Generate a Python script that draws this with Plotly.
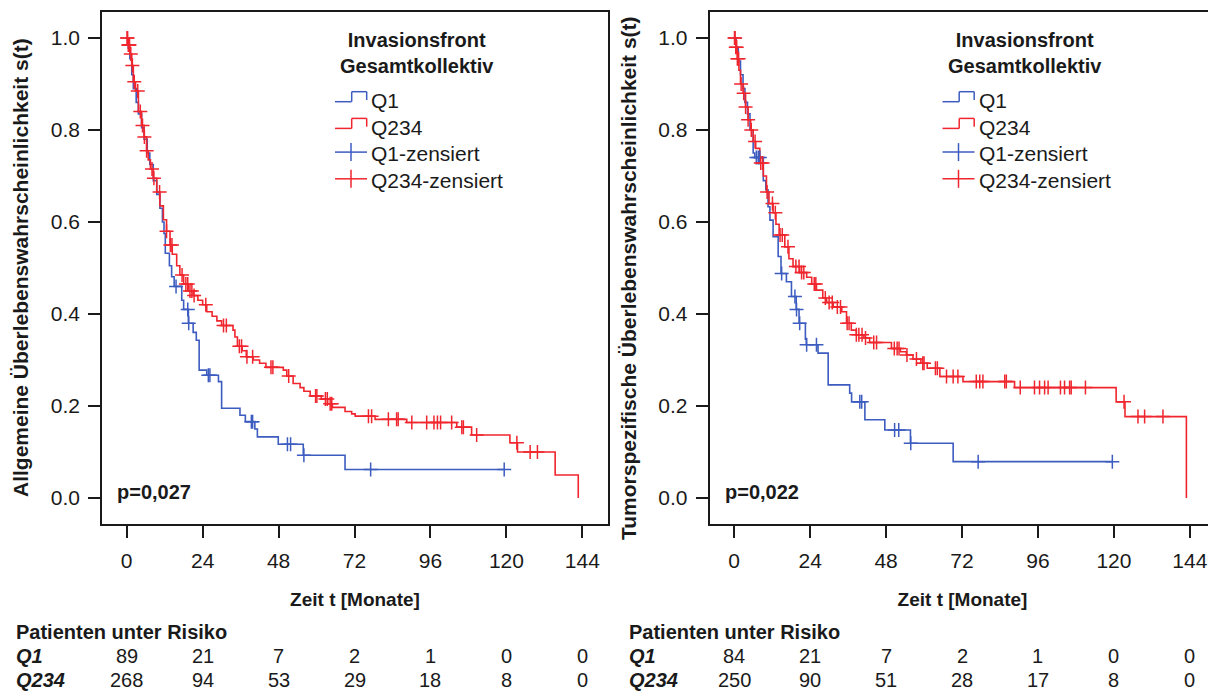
import plotly.graph_objects as go

FONT = "Liberation Sans, Arial, sans-serif"
BLUE = "#3D5CC0"
RED = "#F0262E"
INK = "#1a1a1a"

# ---------------- data ----------------
# Left panel: overall survival (Allgemeine Überlebenswahrscheinlichkeit)
os_q1_t = [0, 0.5, 1.0, 1.6, 2.1, 3.0, 3.7, 4.7, 5.5, 6.5, 7.3, 8.4, 9.5, 10.5, 11.3, 11.8, 12.2,
           13.5, 14.2, 15.0, 17.4, 18.0, 19.5, 21.0, 22.0, 22.9, 25.3, 29.0, 30.0, 35.8, 37.5,
           40.5, 41.3, 47.9, 55.8, 69.0]
os_q1_s = [1.0, 0.978, 0.955, 0.92, 0.89, 0.86, 0.835, 0.805, 0.78, 0.75, 0.725, 0.69, 0.66, 0.63,
           0.6, 0.575, 0.532, 0.505, 0.481, 0.46, 0.43, 0.41, 0.38, 0.36, 0.343, 0.278, 0.267,
           0.253, 0.195, 0.18, 0.166, 0.15, 0.133, 0.117, 0.093, 0.062]
os_q1_end = 119.3
os_q1_cens = [15.6, 19.3, 19.6, 25.8, 26.3, 39.4, 39.8, 50.8, 51.8, 56.0, 77.1, 119.3]

os_q234_t = [0, 0.5, 1.0, 1.6, 2.1, 2.8, 3.7, 4.7, 5.5, 6.3, 6.8, 7.5, 8.4, 9.5, 10.5, 11.6, 12.6,
             13.7, 14.4, 15.8, 16.8, 18.0, 19.5, 21.0, 22.5, 24.0, 25.3, 27.0, 28.5, 30.0, 33.6,
             34.2, 35.0, 36.5, 37.8, 40.0, 42.0, 44.0, 49.5, 50.6, 52.6, 54.8, 56.0, 58.0, 61.5,
             63.5, 65.0, 69.0, 71.1, 72.2, 78.5, 88.5, 104.3, 109.0, 121.1, 123.5, 135.4, 142.7]
os_q234_s = [1.0, 0.985, 0.965, 0.94, 0.905, 0.885, 0.84, 0.81, 0.785, 0.755, 0.735, 0.715, 0.695,
             0.665, 0.635, 0.605, 0.58, 0.55, 0.53, 0.505, 0.485, 0.465, 0.45, 0.44, 0.43, 0.42,
             0.405, 0.395, 0.385, 0.375, 0.365, 0.35, 0.33, 0.32, 0.307, 0.3, 0.293, 0.284, 0.278,
             0.265, 0.249, 0.24, 0.232, 0.222, 0.215, 0.205, 0.197, 0.188, 0.183, 0.178, 0.171,
             0.164, 0.154, 0.137, 0.12, 0.1, 0.05, 0.0]
os_q234_end = 142.7
os_q234_cens = [0.1, 0.3, 0.5, 0.7, 0.9, 1.3, 1.8, 2.4, 3.5, 4.3, 5.0, 5.6, 6.3, 8.0, 8.6, 10.4,
                12.6, 13.8, 14.3, 17.5, 18.7, 19.3, 20.0, 20.6, 21.3, 25.0, 30.6, 31.5, 35.6, 36.3,
                38.0, 39.8, 45.6, 46.2, 51.2, 59.7, 60.1, 62.8, 63.4, 64.3, 64.8, 76.4, 77.4, 82.7,
                85.3, 85.8, 90.1, 94.8, 97.1, 98.2, 99.2, 102.7, 105.9, 106.4, 110.6, 123.3, 127.5,
                129.8]

# Right panel: tumour-specific survival
ts_q1_t = [0, 0.6, 1.3, 2.0, 2.8, 3.4, 4.2, 5.0, 6.0, 6.5, 9.2, 10.0, 10.7, 11.3, 12.3, 13.9,
           14.8, 16.5, 18.1, 19.6, 20.5, 22.5, 22.8, 26.5, 29.7, 36.5, 37.1, 41.3, 47.6, 55.7,
           69.2]
ts_q1_s = [1.0, 0.98, 0.95, 0.92, 0.89, 0.86, 0.835, 0.8, 0.75, 0.74, 0.69, 0.67, 0.633, 0.604,
           0.568, 0.525, 0.488, 0.47, 0.438, 0.41, 0.38, 0.345, 0.333, 0.315, 0.246, 0.228,
           0.209, 0.17, 0.148, 0.119, 0.079]
ts_q1_end = 119.5
ts_q1_cens = [7.0, 7.6, 8.1, 15.0, 19.2, 19.7, 20.7, 22.9, 26.0, 39.7, 40.3, 50.7, 52.0, 55.8,
              77.1, 119.5]

ts_q234_t = [0, 0.5, 1.0, 1.5, 2.0, 2.8, 3.6, 4.4, 5.2, 6.0, 6.8, 8.1, 9.2, 10.2, 11.0, 12.3,
             13.2, 14.2, 16.0, 17.3, 18.6, 20.7, 22.9, 24.5, 26.0, 28.0, 29.2, 31.3, 34.0, 35.5,
             37.0, 38.6, 41.0, 42.8, 49.7, 52.5, 54.4, 56.5, 59.0, 61.0, 65.0, 72.3, 88.6, 120.7,
             123.5, 142.9]
ts_q234_s = [1.0, 0.98, 0.955, 0.93, 0.9, 0.88, 0.85, 0.822, 0.8, 0.775, 0.76, 0.728, 0.7, 0.665,
             0.64, 0.62, 0.595, 0.572, 0.546, 0.52, 0.503, 0.49, 0.48, 0.465, 0.452, 0.435,
             0.425, 0.415, 0.405, 0.38, 0.365, 0.355, 0.348, 0.338, 0.325, 0.318, 0.311, 0.302,
             0.293, 0.282, 0.264, 0.253, 0.24, 0.209, 0.177, 0.0]
ts_q234_end = 142.9
ts_q234_cens = [0.1, 0.3, 0.5, 0.8, 1.0, 1.4, 2.2, 3.0, 3.6, 4.4, 5.4, 6.6, 8.4, 9.0, 10.4, 12.1,
                13.0, 14.5, 15.2, 17.0, 19.5, 20.5, 21.3, 22.0, 25.3, 25.8, 28.8, 30.0, 31.0,
                32.6, 33.6, 35.7, 36.3, 38.6, 39.4, 40.4, 41.5, 44.1, 45.0, 50.6, 51.5, 52.1, 54.6,
                57.6, 59.6, 60.0, 63.6, 64.2, 67.1, 69.2, 70.7, 76.5, 77.6, 78.6, 85.5, 86.0, 90.4,
                94.9, 96.5, 98.1, 99.2, 103.1, 104.4, 106.0, 106.5, 111.0, 123.2, 127.6, 129.7,
                135.5]

risk_times = [0, 24, 48, 72, 96, 120, 144]
risk_os_q1 = [89, 21, 7, 2, 1, 0, 0]
risk_os_q234 = [268, 94, 53, 29, 18, 8, 0]
risk_ts_q1 = [84, 21, 7, 2, 1, 0, 0]
risk_ts_q234 = [250, 90, 51, 28, 17, 8, 0]

p_values = ["p=0,027", "p=0,022"]
y_titles = ["Allgemeine Überlebenswahrscheinlichkeit s(t)",
            "Tumorspezifische Überlebenswahrscheinlichkeit s(t)"]
x_title = "Zeit t [Monate]"
legend_title = ["Invasionsfront", "Gesamtkollektiv"]
group_names = ["Q1", "Q234"]
y_ticks = [0.0, 0.2, 0.4, 0.6, 0.8, 1.0]


def step_at(ts, ss, t):
    v = ss[0]
    for ti, si in zip(ts, ss):
        if ti <= t:
            v = si
        else:
            break
    return v


fig = go.Figure()

panels = [
    ("x", "y", [(os_q1_t, os_q1_s, os_q1_end, os_q1_cens, BLUE),
                (os_q234_t, os_q234_s, os_q234_end, os_q234_cens, RED)]),
    ("x2", "y2", [(ts_q1_t, ts_q1_s, ts_q1_end, ts_q1_cens, BLUE),
                  (ts_q234_t, ts_q234_s, ts_q234_end, ts_q234_cens, RED)]),
]

for xa, ya, curves in panels:
    for ts, ss, end, cens, col in curves:
        xs = list(ts)
        ys = list(ss)
        if end > xs[-1]:
            xs.append(end)
            ys.append(ys[-1])
        fig.add_trace(go.Scatter(x=xs, y=ys, mode="lines", line=dict(color=col, width=1.6, shape="hv"),
                                 xaxis=xa, yaxis=ya, showlegend=False, hoverinfo="skip"))
    for ts, ss, end, cens, col in curves:
        fig.add_trace(go.Scatter(x=cens, y=[step_at(ts, ss, c) for c in cens], mode="markers",
                                 marker=dict(symbol="cross-thin", size=10,
                                             line=dict(color=col, width=1.5)),
                                 xaxis=xa, yaxis=ya, showlegend=False, hoverinfo="skip"))

# The page places the figure 8 px from the top-left corner (body margin),
# so the figure is 8 px smaller and page pixel positions are shifted by OFF.
OFF = 8
W, H = 1216 - OFF, 693 - OFF
frames = [(102 - OFF, 608 - OFF), (709.5 - OFF, 1215.5 - OFF)]
top, bottom = 12 - OFF, 524 - OFF

axis_common = dict(showline=True, mirror=True, linecolor=INK, linewidth=1.5, ticks="outside",
                   ticklen=12, tickwidth=1.5, tickcolor=INK, showgrid=False, zeroline=False,
                   tickfont=dict(family=FONT, size=21, color=INK), automargin=False)

layout = dict(width=W, height=H, margin=dict(l=0, r=0, t=0, b=0), plot_bgcolor="white",
              paper_bgcolor="white", showlegend=False, font=dict(family=FONT, color=INK))
for i, (xl, xr) in enumerate(frames):
    sx = "" if i == 0 else "2"
    layout["xaxis" + sx] = dict(axis_common, domain=[xl / W, xr / W], range=[-7.8, 152.1],
                                tickvals=risk_times, anchor="y" + sx, ticklabelstandoff=5,
                                title=dict(text="<b>" + x_title + "</b>", standoff=22,
                                           font=dict(family=FONT, size=19, color=INK)))
    layout["yaxis" + sx] = dict(axis_common, domain=[1 - bottom / H, 1 - top / H],
                                range=[-0.0565, 1.0565], tickvals=y_ticks, tickformat=".1f",
                                anchor="x" + sx, ticklabelstandoff=4)
fig.update_layout(**layout)

shapes = []
annotations = []
fw = 506.0
fh = 512.0

# y-axis titles (rotated), placed at their page positions
ytitle_pos = [(20, 268), (628, 278)]
for i, (px, py) in enumerate(ytitle_pos):
    annotations.append(dict(text="<b>" + y_titles[i] + "</b>", xref="paper", yref="paper",
                            x=(px - OFF) / W, y=1 - (py - OFF) / H, textangle=-90,
                            xanchor="center", yanchor="middle", showarrow=False,
                            font=dict(family=FONT, size=21, color=INK)))

for i, (xl, xr) in enumerate(frames):
    sx = "" if i == 0 else "2"
    xref = "x" + sx + " domain"
    yref = "y" + sx + " domain"

    # positions below are measured relative to the left frame in page pixels
    def dx(px):
        return (px - 102) / fw

    def dy(py):
        return (524 - py) / fh

    # p-value
    annotations.append(dict(text="<b>" + p_values[i] + "</b>", xref=xref, yref=yref, x=dx(115),
                            y=dy(492), xanchor="left", yanchor="middle", showarrow=False,
                            font=dict(family=FONT, size=20, color=INK)))
    # legend title
    annotations.append(dict(text="<b>" + "<br>".join(legend_title) + "</b>", xref=xref,
                            yref=yref, x=dx(417), y=dy(53), xanchor="center", yanchor="middle",
                            align="center", showarrow=False,
                            font=dict(family=FONT, size=20, color=INK)))
    # legend entries
    labels = [group_names[0], group_names[1], group_names[0] + "-zensiert",
              group_names[1] + "-zensiert"]
    cols = [BLUE, RED, BLUE, RED]
    for k, (lab, col) in enumerate(zip(labels, cols)):
        yc = 100.5 + 26.7 * k
        annotations.append(dict(text=lab, xref=xref, yref=yref, x=dx(369), y=dy(yc),
                                xanchor="left", yanchor="middle", showarrow=False,
                                font=dict(family=FONT, size=21, color=INK)))
        ln = dict(color=col, width=1.5)
        if k < 2:
            lo, hi = yc + 1.2, yc - 8.8
            segs = [(335, lo, 351.7, lo), (351.7, lo, 351.7, hi), (351.7, hi, 366.7, hi),
                    (366.7, hi, 366.7, lo - 1.7)]
        else:
            yl = yc - 1.8
            segs = [(335, yl, 367, yl), (351, yl - 9, 351, yl + 9)]
        for (a, b, c, d) in segs:
            shapes.append(dict(type="line", xref=xref, yref=yref, x0=dx(a), y0=dy(b), x1=dx(c),
                               y1=dy(d), line=ln))

    # risk table (page pixel positions converted to figure paper fractions)
    xa = "x" + sx
    lx = ((14 if i == 0 else 627) - OFF) / W
    annotations.append(dict(text="<b>Patienten unter Risiko</b>", xref="paper", yref="paper",
                            x=lx, y=1 - (632 - OFF) / H, xanchor="left", yanchor="middle",
                            showarrow=False, font=dict(family=FONT, size=20, color=INK)))
    rows = [risk_os_q1, risk_os_q234] if i == 0 else [risk_ts_q1, risk_ts_q234]
    for r, (name, vals) in enumerate(zip(group_names, rows)):
        yrow = 1 - (656 + 24 * r - OFF) / H
        annotations.append(dict(text="<b><i>" + name + "</i></b>", xref="paper", yref="paper",
                                x=lx, y=yrow, xanchor="left", yanchor="middle", showarrow=False,
                                font=dict(family=FONT, size=20, color=INK)))
        for t, v in zip(risk_times, vals):
            annotations.append(dict(text=str(v), xref=xa, yref="paper", x=t, y=yrow,
                                    xanchor="center", yanchor="middle", showarrow=False,
                                    font=dict(family=FONT, size=20, color=INK)))

fig.update_layout(shapes=shapes, annotations=annotations)
fig.write_html("out.html")
